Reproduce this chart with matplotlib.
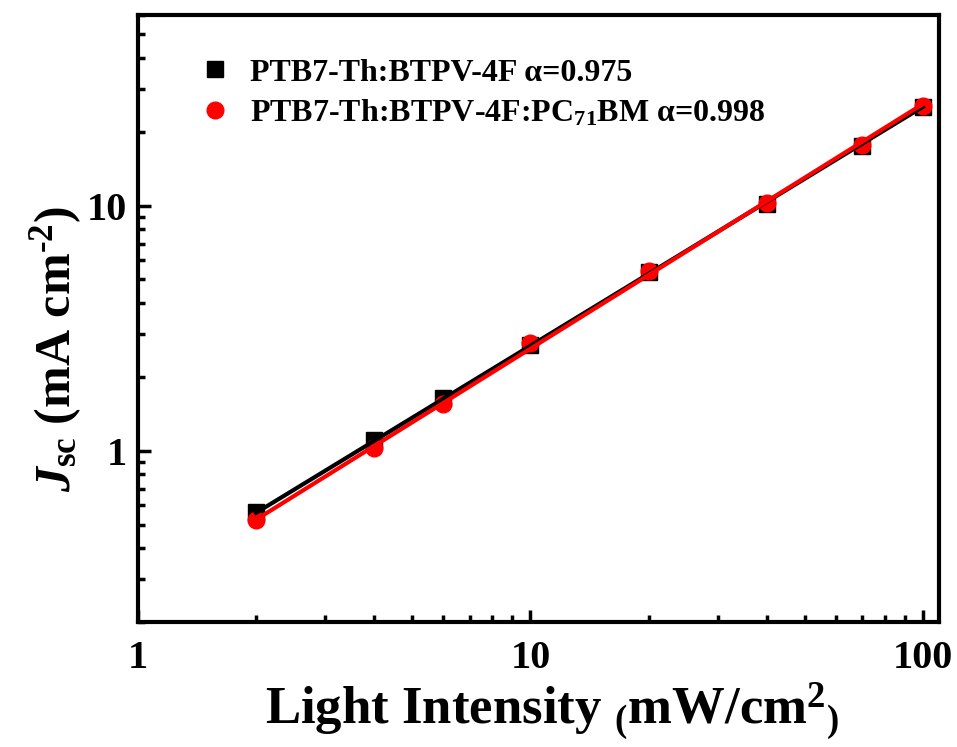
import numpy as np
import matplotlib
matplotlib.use("Agg")
import matplotlib.pyplot as plt
from matplotlib.ticker import FixedLocator, FixedFormatter, LogLocator, NullFormatter

plt.rcParams["font.family"] = ["Liberation Serif", "DejaVu Serif"]
plt.rcParams["font.weight"] = "bold"
plt.rcParams["mathtext.fontset"] = "custom"
plt.rcParams["mathtext.rm"] = "Liberation Serif:bold"
plt.rcParams["mathtext.bf"] = "Liberation Serif:bold"
plt.rcParams["mathtext.it"] = "Liberation Serif:italic:bold"

# Light intensity (mW/cm^2) and short-circuit current density (mA/cm^2)
intensity = [2, 4, 6, 10, 20, 40, 70, 100]
jsc_binary = [0.56, 1.11, 1.64, 2.70, 5.34, 10.2, 17.5, 25.2]
jsc_ternary = [0.52, 1.03, 1.55, 2.75, 5.39, 10.3, 17.7, 25.6]
alpha_binary = 0.975
alpha_ternary = 0.998
label_binary = r"PTB7-Th:BTPV-4F α=0.975"
label_ternary = r"PTB7-Th:BTPV-4F:PC$_{71}$BM α=0.998"

x_ticks = [1, 10, 100]
x_tick_labels = ["1", "10", "100"]
y_ticks = [1, 10]
y_tick_labels = ["1", "10"]


def power_law_fit(x, y, alpha):
    """Line J = c * I^alpha through the log-mean of the data."""
    lx, ly = np.log10(x), np.log10(y)
    c = np.mean(ly) - alpha * np.mean(lx)
    xf = np.array([min(x), max(x)], dtype=float)
    return xf, 10 ** (c + alpha * np.log10(xf))


fig = plt.figure(figsize=(9.57, 7.47), dpi=100)
ax = fig.add_axes([0.1442, 0.1673, 0.9812 - 0.1442, 0.9799 - 0.1673])

ax.set_xscale("log")
ax.set_yscale("log")

xb, yb = power_law_fit(intensity, jsc_binary, alpha_binary)
xt, yt = power_law_fit(intensity, jsc_ternary, alpha_ternary)

ax.plot(intensity, jsc_binary, "s", color="black", markersize=11,
        label=label_binary, zorder=3)
ax.plot(intensity, jsc_ternary, "o", color="red", markersize=12,
        label=label_ternary, zorder=4)
ax.plot(xb, yb, "-", color="black", linewidth=3.0, zorder=5)
ax.plot(xt, yt, "-", color="red", linewidth=3.0, zorder=6)

ax.set_xlim(1, 110)
ax.set_ylim(0.2, 60)

ax.xaxis.set_major_locator(FixedLocator(x_ticks))
ax.xaxis.set_major_formatter(FixedFormatter(x_tick_labels))
ax.yaxis.set_major_locator(FixedLocator(y_ticks))
ax.yaxis.set_major_formatter(FixedFormatter(y_tick_labels))
for axis in (ax.xaxis, ax.yaxis):
    axis.set_minor_locator(LogLocator(base=10, subs=np.arange(2, 10), numticks=20))
    axis.set_minor_formatter(NullFormatter())

ax.tick_params(which="both", direction="in", top=False, right=False,
               width=2.5, labelsize=29)
ax.tick_params(axis="x", pad=13)
ax.tick_params(axis="y", pad=8)
ax.tick_params(which="major", length=9)
ax.tick_params(which="minor", length=5)
for s in ax.spines.values():
    s.set_linewidth(3.0)

ax.set_xlabel(r"Light Intensity $_{(}$mW/cm$^{2}$$_{)}$", fontsize=38,
              fontweight="bold")
ax.xaxis.set_label_coords(0.517, -0.096)
ax.xaxis.label.set_verticalalignment("top")
ax.set_ylabel(r"$\mathit{J}_{\mathrm{sc}}$ (mA cm$^{\text{-}2}$)", fontsize=36,
              fontweight="bold")
ax.yaxis.set_label_coords(-0.068, 0.45)

leg = ax.legend(loc="upper left", bbox_to_anchor=(0.06, 0.95), frameon=False,
                fontsize=23, handletextpad=0.6, labelspacing=0.33,
                handlelength=1.0, borderaxespad=0)
for t in leg.get_texts():
    t.set_fontweight("bold")

fig.savefig("out.png", dpi=100)
